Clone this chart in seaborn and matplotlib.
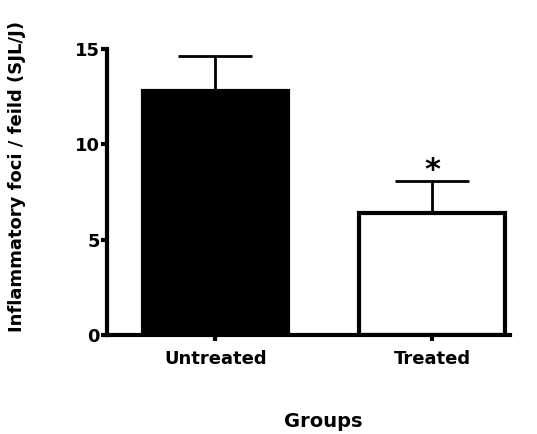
import numpy as np
import pandas as pd
import matplotlib
matplotlib.use('Agg')
import matplotlib.pyplot as plt
import seaborn as sns

# 数据
groups = ['Untreated', 'Treated']
means = [12.8, 6.4]
sem = [1.83, 1.68]
bar_colors = ['black', 'white']

df = pd.DataFrame({'Groups': groups, 'Foci': means})

sns.set_style('white')
plt.rcParams['font.family'] = ['DejaVu Sans']
plt.rcParams['font.weight'] = 'bold'
plt.rcParams['text.color'] = 'black'
plt.rcParams['axes.labelcolor'] = 'black'
plt.rcParams['xtick.color'] = 'black'
plt.rcParams['ytick.color'] = 'black'

fig = plt.figure(figsize=(5.37, 4.34), dpi=100)
ax = fig.add_axes([0.199, 0.228, 0.751, 0.659])

sns.barplot(data=df, x='Groups', y='Foci', hue='Groups', palette=bar_colors,
            edgecolor='black', linewidth=3, width=0.67, legend=False, ax=ax, zorder=2)

# 误差线（只画上半部分）
ax.errorbar(range(len(groups)), means, yerr=[[0] * len(sem), sem], fmt='none',
            ecolor='black', elinewidth=2, capsize=26.5, capthick=2, zorder=1)

# 显著性星号
ax.text(1, means[1] + sem[1] - 0.2, '*', ha='center', va='bottom', fontsize=22, fontweight='bold')

ax.set_xlim(-0.5, 1.36)
ax.set_ylim(0, 15)
ax.set_yticks([0, 5, 10, 15])
ax.set_ylabel('Inflammatory foci / feild (SJL/J)', fontsize=13, fontweight='bold')
ax.set_xlabel('Groups', fontsize=14, fontweight='bold')
ax.yaxis.set_label_coords(-0.2, 0.555)
ax.xaxis.set_label_coords(0.536, -0.269)

for s in ['top', 'right']:
    ax.spines[s].set_visible(False)
for s in ['left', 'bottom']:
    ax.spines[s].set_linewidth(3)
    ax.spines[s].set_color('black')

ax.tick_params(axis='both', direction='out', length=4, width=3, color='black',
               labelsize=13, left=True, bottom=True, pad=1)
ax.tick_params(axis='x', pad=7)
for lbl in ax.get_xticklabels() + ax.get_yticklabels():
    lbl.set_fontweight('bold')

fig.savefig('out.png', dpi=100)
